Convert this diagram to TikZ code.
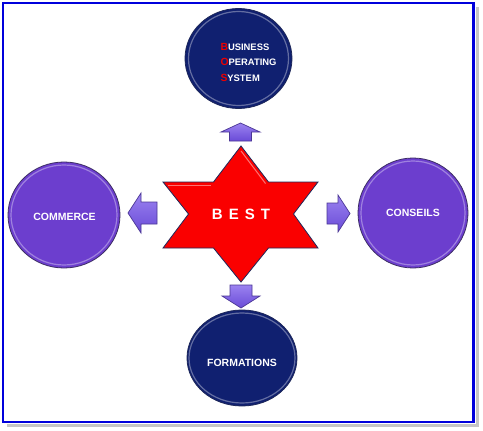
\documentclass[tikz,border=0pt]{standalone}
\usepackage{fontspec}
\setmainfont{Liberation Sans}
\usetikzlibrary{shapes.geometric}
\definecolor{framblue}{RGB}{0,0,220}
\definecolor{navy}{RGB}{16,32,112}
\definecolor{navyedge}{RGB}{30,40,90}
\definecolor{purp}{RGB}{108,62,206}
\definecolor{purpedge}{RGB}{60,45,100}
\definecolor{arrlight}{RGB}{155,130,240}
\definecolor{arrdark}{RGB}{105,75,215}
\definecolor{arredge}{RGB}{75,55,150}
\definecolor{starred}{RGB}{250,0,0}
\definecolor{bosred}{RGB}{235,0,0}
\tikzset{
  navycirc/.style={ellipse, draw=navyedge, fill=navy, line width=0.8pt, inner sep=0pt},
  purpcirc/.style={ellipse, draw=purpedge, fill=purp, line width=0.8pt, inner sep=0pt},
  rim/.style={white, opacity=0.35, line width=1.2pt},
  lbl/.style={text=white, font=\fontsize{10.5}{12}\selectfont\bfseries},
  barrow/.style={draw=arredge, line width=0.7pt, top color=arrlight, bottom color=arrdark, line join=miter},
}
\begin{document}
\begin{tikzpicture}[x=1pt,y=-1pt]
\useasboundingbox (0,0) rectangle (483,431);
\fill[white] (0,0) rectangle (483,431);
% frame with shadow
\draw[gray!45, line width=3pt] (7,425.5) -- (477,425.5) -- (477,7);
\draw[framblue, line width=2.6pt] (3,3) rectangle (473.5,422);

% circles
\node[navycirc, minimum width=107pt, minimum height=100pt] (bos) at (238.5,58.5) {};
\draw[rim] (238.5,58.5) ellipse [x radius=50, y radius=47];
\node[navycirc, minimum width=110pt, minimum height=96pt] (form) at (242,358) {};
\draw[rim] (242,358) ellipse [x radius=53, y radius=45];
\node[purpcirc, minimum width=112pt, minimum height=106pt] (comm) at (64,215) {};
\draw[rim] (64,215) ellipse [x radius=53, y radius=50];
\node[purpcirc, minimum width=110pt, minimum height=110pt] (cons) at (413,213) {};
\draw[rim] (413,213) ellipse [x radius=52, y radius=52];

% labels
\node[lbl] (commtxt) at (64.5,217) {COMMERCE};
\node[lbl] (constxt) at (413,213) {CONSEILS};
\node[lbl] (formtxt) at (242,363) {FORMATIONS};
\node[text=white, align=left, font=\fontsize{9.4}{15.5}\selectfont\bfseries, anchor=center] (bostxt) at (248.5,62)
  {\textcolor{bosred}{\fontsize{10.4}{15.5}\selectfont B}USINESS\\\textcolor{bosred}{\fontsize{10.4}{15.5}\selectfont O}PERATING\\\textcolor{bosred}{\fontsize{10.4}{15.5}\selectfont S}YSTEM};

% star
\draw[fill=starred, draw=navyedge, line width=0.8pt, line join=miter]
  (241,146) -- (268.5,182) -- (318,182) -- (293.5,214) -- (318,248) -- (268.5,248)
  -- (241,282) -- (213.5,248) -- (163,248) -- (188.5,214) -- (163,182) -- (213.5,182) -- cycle;
\draw[white, opacity=0.45, line width=1pt] (241,151) -- (265.5,183.5);
\draw[white, opacity=0.45, line width=1pt] (168,185) -- (211,185);
\node[text=white, font=\fontsize{15}{17}\selectfont\bfseries] (best) at (241,214)
  {B\kern6pt E\kern6pt S\kern6pt T};

% block arrows
\draw[barrow] (229.5,141) -- (229.5,132) -- (221,132) -- (240.5,123) -- (260,132) -- (251.5,132) -- (251.5,141) -- cycle;
\draw[barrow] (230,285) -- (230,296) -- (222,296) -- (241,308) -- (260,296) -- (252,296) -- (252,285) -- cycle;
\draw[barrow] (157,202) -- (141,202) -- (141,193) -- (128,213) -- (141,233) -- (141,224) -- (157,224) -- cycle;
\draw[barrow] (327,203) -- (338,203) -- (338,195) -- (350,213.5) -- (338,232) -- (338,224) -- (327,224) -- cycle;
\end{tikzpicture}
\end{document}
